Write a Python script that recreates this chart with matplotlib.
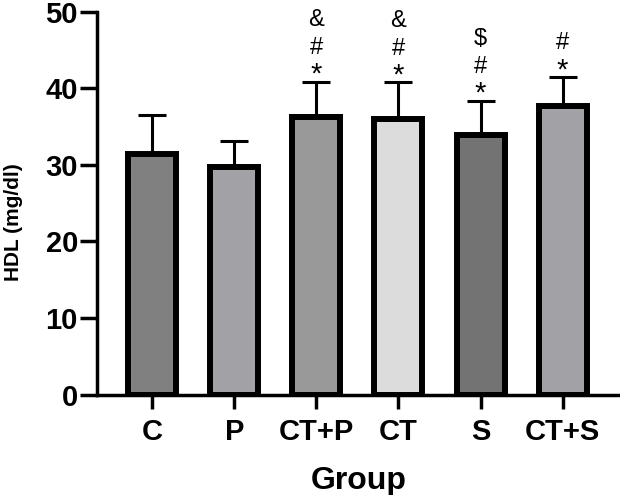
import matplotlib.pyplot as plt

groups = ["C", "P", "CT+P", "CT", "S", "CT+S"]
means = [31.4, 29.7, 36.3, 36.0, 33.9, 37.7]
sds = [5.1, 3.4, 4.6, 4.8, 4.5, 3.8]
signif = [[], [], ["*", "#", "&"], ["*", "#", "&"], ["*", "#", "$"], ["*", "#"]]
colors = ["#808080", "#a2a1a5", "#999999", "#dcdcdc", "#737373", "#a2a1a5"]

plt.rcParams["font.family"] = ["Liberation Sans", "DejaVu Sans"]

fig = plt.figure(figsize=(6.2, 4.95), dpi=100)
ax = fig.add_axes([0.157, 0.203, 0.843, 0.773])

x = list(range(len(groups)))
ax.bar(x, means, width=0.585, color=colors, edgecolor="black", linewidth=4.3, zorder=3)
ax.errorbar(x, means, yerr=[[0] * len(sds), sds], fmt="none", ecolor="black",
            elinewidth=2.2, capsize=10, capthick=2.2, zorder=2)

# stacked significance marks above the error bars
offsets = [-1, 20, 40]
for xi, m, s, marks in zip(x, means, sds, signif):
    for k, sym in enumerate(marks):
        size = 21 if sym == "*" else 17
        ax.annotate(sym, (xi, m + s), xytext=(0, offsets[k]), textcoords="offset points",
                    ha="center", va="baseline", fontsize=size)

ax.set_xlim(-0.67, 5.70)
ax.set_ylim(0, 50)
ax.set_yticks(range(0, 51, 10))
ax.set_xticks(x)
ax.set_xticklabels(groups)

for side in ["top", "right"]:
    ax.spines[side].set_visible(False)
for side in ["left", "bottom"]:
    ax.spines[side].set_linewidth(2.5)

ax.tick_params(axis="y", length=12, width=2.5, pad=2, labelsize=21)
ax.tick_params(axis="x", length=10, width=2.5, pad=7, labelsize=21)
for lab in ax.get_xticklabels() + ax.get_yticklabels():
    lab.set_fontweight("bold")

ax.set_ylabel("HDL (mg/dl)", fontsize=15, fontweight="bold")
ax.yaxis.set_label_coords(-0.142, 0.45)
ax.set_xlabel("Group", fontsize=23, fontweight="bold", labelpad=14)

fig.savefig("out.png", dpi=100)
